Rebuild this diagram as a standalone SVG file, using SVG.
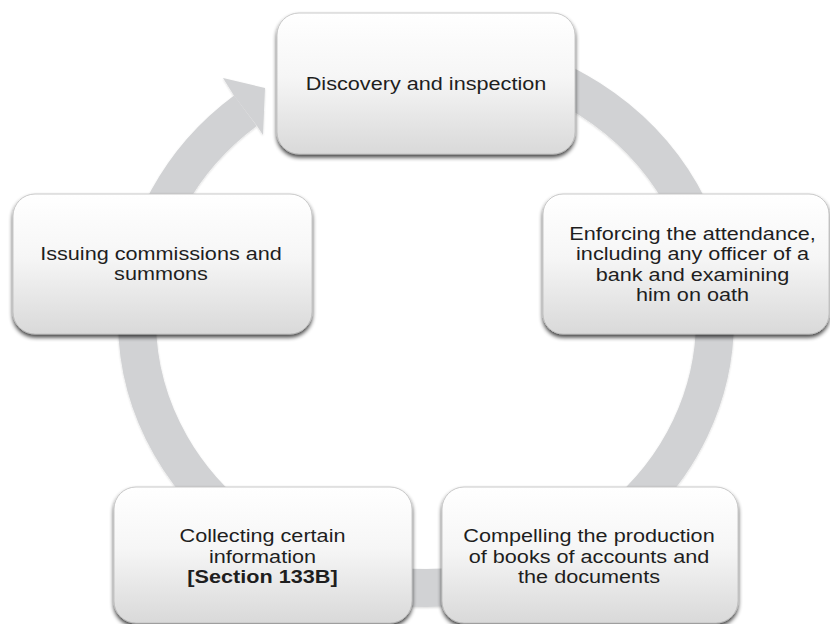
<svg xmlns="http://www.w3.org/2000/svg" width="830" height="624" viewBox="0 0 830 624">
  <defs>
    <linearGradient id="boxFill" x1="0" y1="0" x2="0" y2="1">
      <stop offset="0" stop-color="#ffffff"/>
      <stop offset="0.45" stop-color="#f6f6f6"/>
      <stop offset="1" stop-color="#d9d9d9"/>
    </linearGradient>
    <filter id="shadow" x="-10%" y="-10%" width="120%" height="125%">
      <feGaussianBlur in="SourceAlpha" stdDeviation="2.2"/>
      <feOffset dx="0" dy="2.5" result="b"/>
      <feComponentTransfer><feFuncA type="linear" slope="0.75"/></feComponentTransfer>
      <feMerge><feMergeNode/><feMergeNode in="SourceGraphic"/></feMerge>
    </filter>
    <filter id="ringShadow" x="-5%" y="-5%" width="110%" height="110%">
      <feGaussianBlur in="SourceAlpha" stdDeviation="1"/>
      <feOffset dx="0" dy="1"/>
      <feComponentTransfer><feFuncA type="linear" slope="0.15"/></feComponentTransfer>
      <feMerge><feMergeNode/><feMergeNode in="SourceGraphic"/></feMerge>
    </filter>
  </defs>
  <style>
    .box { fill: url(#boxFill); stroke: #bdbdbd; stroke-width: 0.8; filter: url(#shadow); }
    .lbl { font-family: "Liberation Sans", Arial, sans-serif; font-size: 18.5px; fill: #1e1e1e; text-anchor: middle; }
    .bold { font-weight: bold; }
    .ring { fill: none; stroke: #d1d2d4; stroke-width: 38; }
    .head { fill: #d1d2d4; }
  </style>

  <g id="connectors" filter="url(#ringShadow)">
    <path class="ring" d="M 476 56 A 289 268 0 1 1 245.4 110.7"/>
    <polygon class="head" points="233.9,95.6 223,78 265,88 263,135 256.9,125.8"/>
  </g>

  <g id="node-discovery">
    <rect class="box" x="277" y="13" width="298" height="141" rx="22" ry="22"/>
    <g transform="translate(426,0) scale(1.17,1)">
      <text class="lbl" x="0" y="90">Discovery and inspection</text>
    </g>
  </g>

  <g id="node-enforcing">
    <rect class="box" x="543" y="194" width="286" height="140" rx="20" ry="20"/>
    <g transform="translate(692.5,0) scale(1.17,1)">
      <text class="lbl" x="0" y="240">Enforcing the attendance,</text>
      <text class="lbl" x="0" y="260.5">including any officer of a</text>
      <text class="lbl" x="0" y="281">bank and examining</text>
      <text class="lbl" x="0" y="301">him on oath</text>
    </g>
  </g>

  <g id="node-compelling">
    <rect class="box" x="442" y="487" width="296" height="136" rx="22" ry="22"/>
    <g transform="translate(589,0) scale(1.17,1)">
      <text class="lbl" x="0" y="542">Compelling the production</text>
      <text class="lbl" x="0" y="563">of books of accounts and</text>
      <text class="lbl" x="0" y="583.5">the documents</text>
    </g>
  </g>

  <g id="node-collecting">
    <rect class="box" x="114" y="487" width="298" height="136" rx="22" ry="22"/>
    <g transform="translate(262.5,0) scale(1.17,1)">
      <text class="lbl" x="0" y="542">Collecting certain</text>
      <text class="lbl" x="0" y="563">information</text>
      <text class="lbl bold" x="0" y="583.5">[Section 133B]</text>
    </g>
  </g>

  <g id="node-issuing">
    <rect class="box" x="13" y="194" width="299" height="140" rx="22" ry="22"/>
    <g transform="translate(161,0) scale(1.17,1)">
      <text class="lbl" x="0" y="260">Issuing commissions and</text>
      <text class="lbl" x="0" y="280.5">summons</text>
    </g>
  </g>
</svg>
